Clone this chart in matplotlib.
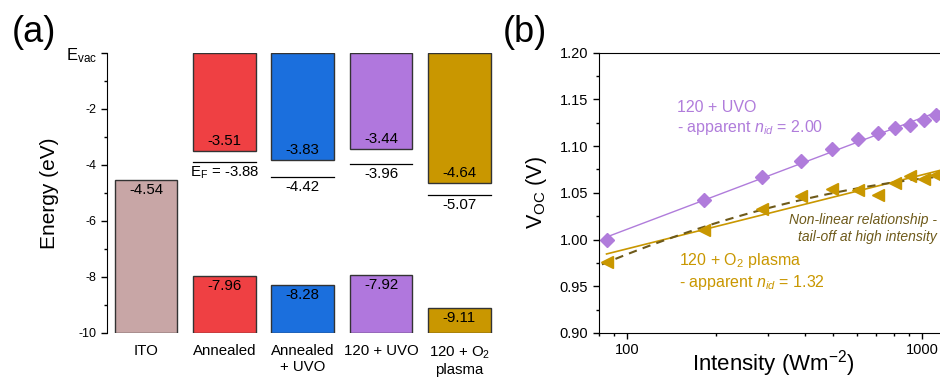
import numpy as np
import matplotlib
matplotlib.use("Agg")
import matplotlib.pyplot as plt
from matplotlib.ticker import MultipleLocator, FixedLocator, NullFormatter

plt.rcParams["font.family"] = ["Liberation Sans", "DejaVu Sans"]
plt.rcParams["mathtext.fontset"] = "custom"
plt.rcParams["mathtext.rm"] = "Liberation Sans"
plt.rcParams["mathtext.it"] = "Liberation Sans:italic"

# ---- panel (a): energy levels ----
samples = ["ITO", "Annealed", "Annealed\n+ UVO", "120 + UVO", "120 + O$_2$\nplasma"]
cb_levels = [None, -3.51, -3.83, -3.44, -4.64]      # upper bar edge (eV)
vb_levels = [-4.54, -7.96, -8.28, -7.92, -9.11]     # lower bar top (eV)
fermi_levels = [None, -3.88, -4.42, -3.96, -5.07]
bar_colors = ["#C8A6A6", "#EF4043", "#1B6FDD", "#B077DD", "#C99700"]

# ---- panel (b): Voc vs intensity ----
intensity = [85, 182, 286, 388, 494, 605, 708, 810, 910, 1016, 1116]
voc_uvo = [0.999, 1.042, 1.067, 1.084, 1.097, 1.108, 1.114, 1.119, 1.123, 1.128, 1.133]
voc_plasma = [0.976, 1.010, 1.033, 1.047, 1.054, 1.053, 1.048, 1.060, 1.068, 1.065, 1.069]

purple = "#B07CDB"
gold = "#C99700"
dark = "#6E5A1A"

fig = plt.figure(figsize=(9.4, 3.81), dpi=100)
ax1 = fig.add_axes([0.1138, 0.126, 0.4165, 0.735])
ax2 = fig.add_axes([0.637, 0.126, 0.363, 0.736])

x = np.arange(len(samples))
w = 0.8
bottom = -10
for i in range(len(samples)):
    c = bar_colors[i]
    # lower bar (valence band / ITO work function)
    ax1.bar(x[i], vb_levels[i] - bottom, bottom=bottom, width=w, color=c,
            edgecolor="#333333", linewidth=1)
    ax1.text(x[i], vb_levels[i] - 0.12, f"{vb_levels[i]:.2f}", ha="center",
             va="top", fontsize=10.8)
    if cb_levels[i] is not None:
        ax1.bar(x[i], 0 - cb_levels[i], bottom=cb_levels[i], width=w, color=c,
                edgecolor="#333333", linewidth=1)
        ax1.text(x[i], cb_levels[i] + 0.12, f"{cb_levels[i]:.2f}", ha="center",
                 va="bottom", fontsize=10.8)
    if fermi_levels[i] is not None:
        ax1.plot([x[i] - w / 2, x[i] + w / 2], [fermi_levels[i]] * 2,
                 color="black", lw=0.9)
        lab = f"{fermi_levels[i]:.2f}"
        if i == 1:
            lab = "E$_\\mathregular{F}$ = " + lab
        ax1.text(x[i], fermi_levels[i] - 0.1, lab, ha="center", va="top",
                 fontsize=10.8)

ax1.set_xlim(-0.5, 4.5)
ax1.set_ylim(-10, 0)
ax1.set_xticks(x)
ax1.set_xticklabels(samples, fontsize=10.8)
ax1.tick_params(axis="x", length=0, pad=8)
ax1.set_yticks([-10, -8, -6, -4, -2, 0])
ax1.set_yticklabels(["-10", "-8", "-6", "-4", "-2", "E$_\\mathregular{vac}$"])
for lbl in ax1.get_yticklabels():
    lbl.set_fontsize(9)
ax1.get_yticklabels()[-1].set_fontsize(12)
ax1.yaxis.set_minor_locator(MultipleLocator(1))
ax1.tick_params(axis="y", which="major", direction="out", length=4, width=1)
ax1.tick_params(axis="y", which="minor", direction="out", length=2, width=1)
for s in ["top", "right", "bottom"]:
    ax1.spines[s].set_visible(False)
ax1.set_ylabel("Energy (eV)", fontsize=15, labelpad=5)
fig.text(0.012, 0.915, "(a)", fontsize=26, va="center")

# panel (b)
li = np.log(intensity)
xfit = np.logspace(np.log10(intensity[0]), np.log10(1150), 100)
p_uvo = np.polyfit(li, voc_uvo, 1)
p_pl = np.polyfit(li, voc_plasma, 1)
p_pl2 = np.polyfit(li, voc_plasma, 2)
xdash = np.logspace(np.log10(82), np.log10(intensity[-1]), 100)

ax2.plot(xfit, np.polyval(p_uvo, np.log(xfit)), color=purple, lw=1)
ax2.plot(xfit, np.polyval(p_pl, np.log(xfit)), color=gold, lw=1.2)
ax2.plot(xdash, np.polyval(p_pl2, np.log(xdash)), color=dark, lw=1.5,
         ls=(0, (4, 3)))
ax2.plot(intensity, voc_uvo, ls="none", marker="D", ms=7, color=purple)
ax2.plot(intensity, voc_plasma, ls="none", marker="<", ms=9, color=gold)

ax2.set_xscale("log")
ax2.set_xlim(80, 1150)
ax2.set_ylim(0.90, 1.20)
ax2.xaxis.set_major_locator(FixedLocator([100, 1000]))
ax2.set_xticklabels(["100", "1000"])
ax2.xaxis.set_minor_locator(FixedLocator([80, 90] + list(range(200, 1000, 100))))
ax2.xaxis.set_minor_formatter(NullFormatter())
ax2.yaxis.set_major_locator(MultipleLocator(0.05))
ax2.yaxis.set_minor_locator(MultipleLocator(0.025))
ax2.yaxis.set_major_formatter(plt.FormatStrFormatter("%.2f"))
ax2.tick_params(which="major", direction="out", length=4, width=1, labelsize=10.5)
ax2.tick_params(which="minor", direction="out", length=2, width=1)
ax2.spines["right"].set_visible(False)
# x label placed by hand so it stays inside the canvas
fig.text(0.823, 0.004, "Intensity (Wm$^{-2}$)", fontsize=16, ha="center",
         va="bottom")
ax2.set_ylabel("V$_\\mathregular{OC}$ (V)", fontsize=15.5, labelpad=8)
fig.text(0.535, 0.915, "(b)", fontsize=26, va="center")

ax2.text(147, 1.1408, "120 + UVO", color=purple, fontsize=11.5, va="center")
ax2.text(147, 1.1194, "- apparent $n_{id}$ = 2.00", color=purple, fontsize=11.5,
         va="center")
ax2.text(150, 0.978, "120 + O$_2$ plasma", color=gold, fontsize=11.5, va="center")
ax2.text(150, 0.954, "- apparent $n_{id}$ = 1.32", color=gold, fontsize=11.5,
         va="center")
ax2.text(1122, 1.021, "Non-linear relationship -", color=dark, fontsize=10,
         style="italic", ha="right", va="center")
ax2.text(1122, 1.0024, "tail-off at high intensity", color=dark, fontsize=10,
         style="italic", ha="right", va="center")

fig.savefig("out.png", dpi=100)
